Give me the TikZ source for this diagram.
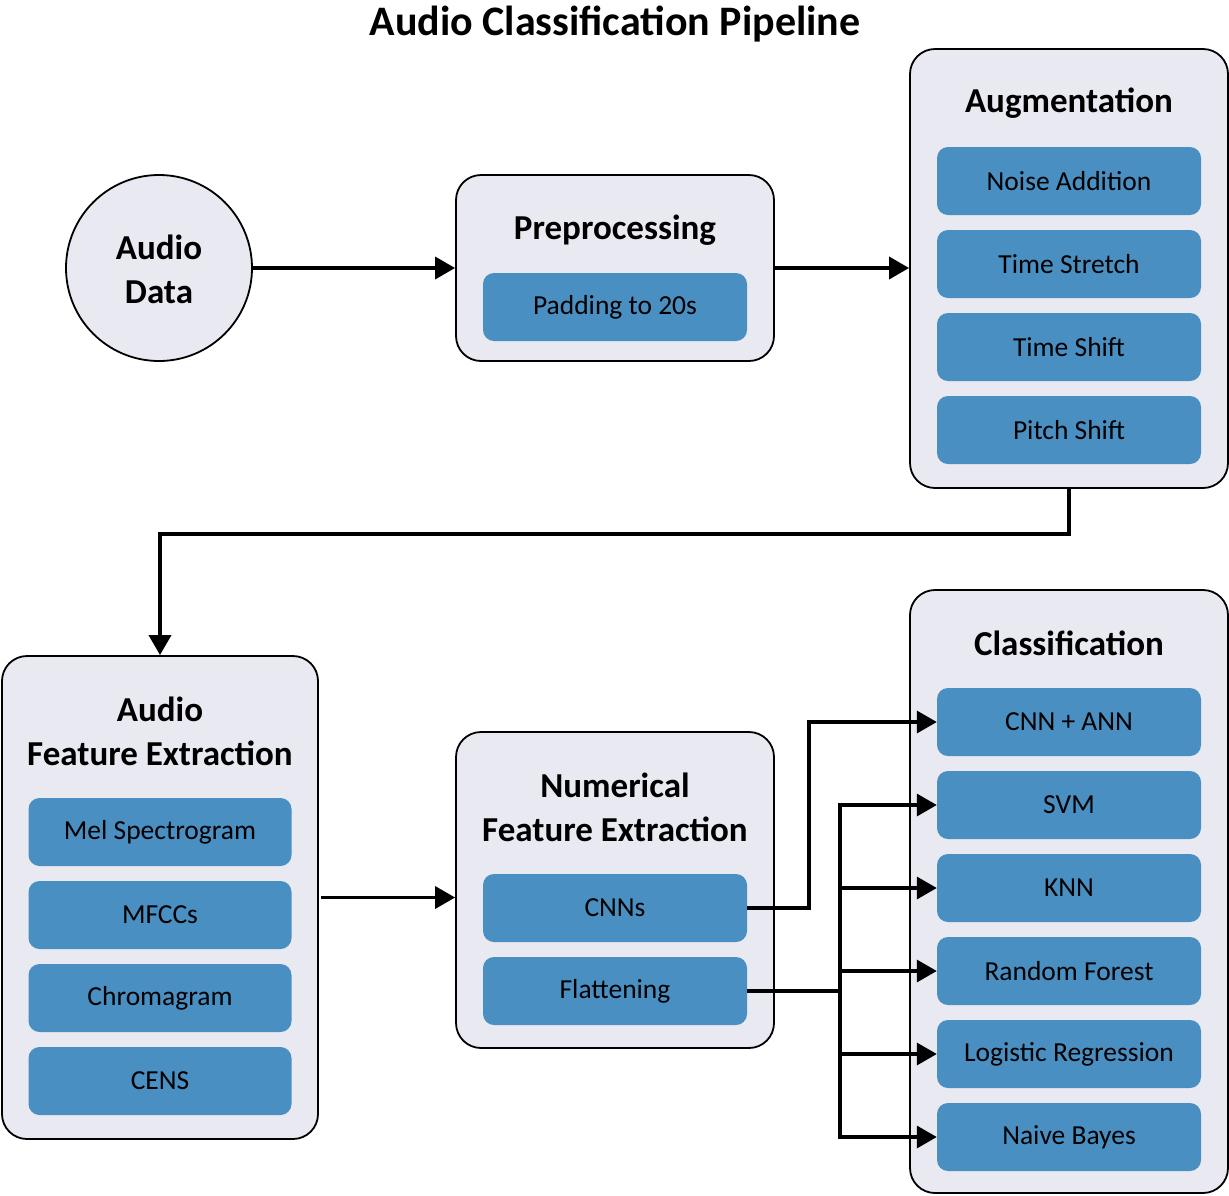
\documentclass[tikz,border=0pt]{standalone}
\usepackage{fontspec}
\setmainfont{Carlito}
\usetikzlibrary{arrows.meta}
\definecolor{contfill}{HTML}{E9E9F2}
\definecolor{subfill}{HTML}{4A8FC2}
\tikzset{
  container/.style={draw=black, line width=1.8pt, fill=contfill, rounded corners=25pt, inner sep=0pt},
  subbox/.style={fill=subfill, rounded corners=11pt, minimum width=264pt, minimum height=68pt, inner sep=0pt, font=\fontsize{27.5}{30}\selectfont},
  heading/.style={font=\fontsize{35}{44}\selectfont\bfseries, align=center, inner sep=0pt},
  conn/.style={line width=3.5pt, -{Triangle[length=20pt,width=22pt]}},
  plainconn/.style={line width=3.5pt}
}
\begin{document}
\begin{tikzpicture}[x=1pt,y=-1pt]
\useasboundingbox (0,0) rectangle (1229,1195);
% title
\node[font=\fontsize{42}{48}\selectfont\bfseries, inner sep=0pt] (title) at (615,24) {Audio Classification Pipeline};

% audio data circle
\node[circle, draw=black, line width=1.8pt, fill=contfill, minimum size=186pt, inner sep=0pt] (audio) at (159,268) {};
\node[heading] (audiolbl) at (159,269) {Audio\\Data};

% preprocessing
\node[container, minimum width=318pt, minimum height=186pt] (prep) at (615,268) {};
\node[heading] (preplbl) at (615,230) {Preprocessing};
\node[subbox] (pad) at (615,307) {Padding to 20s};

% augmentation
\node[container, minimum width=318pt, minimum height=439pt] (aug) at (1069,268.5) {};
\node[heading] (auglbl) at (1069,103) {Augmentation};
\node[subbox] (noise) at (1069,181) {Noise Addition};
\node[subbox] (stretch) at (1069,264) {Time Stretch};
\node[subbox] (tshift) at (1069,347) {Time Shift};
\node[subbox] (pshift) at (1069,430) {Pitch Shift};

% audio feature extraction
\node[container, minimum width=316pt, minimum height=483pt] (afe) at (160,897.5) {};
\node[heading] (afelbl) at (160,731) {Audio\\Feature Extraction};
\node[subbox, minimum width=263pt] (mel) at (160,832) {Mel Spectrogram};
\node[subbox, minimum width=263pt] (mfcc) at (160,915) {MFCCs};
\node[subbox, minimum width=263pt] (chroma) at (160,998) {Chromagram};
\node[subbox, minimum width=263pt] (cens) at (160,1081) {CENS};

% numerical feature extraction
\node[container, minimum width=318pt, minimum height=316pt] (nfe) at (615,890) {};
\node[heading] (nfelbl) at (615,807) {Numerical\\Feature Extraction};
\node[subbox] (cnns) at (615,908) {CNNs};
\node[subbox] (flat) at (615,991) {Flattening};

% classification
\node[container, minimum width=318pt, minimum height=603pt] (cls) at (1069,891.5) {};
\node[heading] (clslbl) at (1069,643) {Classification};
\node[subbox] (cnnann) at (1069,722) {CNN + ANN};
\node[subbox] (svm) at (1069,805) {SVM};
\node[subbox] (knn) at (1069,888) {KNN};
\node[subbox] (rf) at (1069,971) {Random Forest};
\node[subbox] (lr) at (1069,1054) {Logistic Regression};
\node[subbox] (nb) at (1069,1137) {Naive Bayes};

% connectors
\draw[conn] (audio.east) -- (audio.east -| prep.west);
\draw[conn] (prep.east) -- (prep.east -| aug.west);
\draw[conn] (aug.south) -- ++(0,45) -| (afe.north);
\draw[conn] ([xshift=2pt]afe.east) -- (afe.east -| nfe.west);
\draw[conn] (cnns.east) -- ++(62,0) |- (cnnann.west);
\draw[plainconn] (flat.east) -- ++(93,0) coordinate (junc);
\draw[conn] (junc) |- (svm.west);
\draw[conn] (junc) |- (knn.west);
\draw[conn] (junc) |- (rf.west);
\draw[conn] (junc) |- (lr.west);
\draw[conn] (junc) |- (nb.west);
\end{tikzpicture}
\end{document}
